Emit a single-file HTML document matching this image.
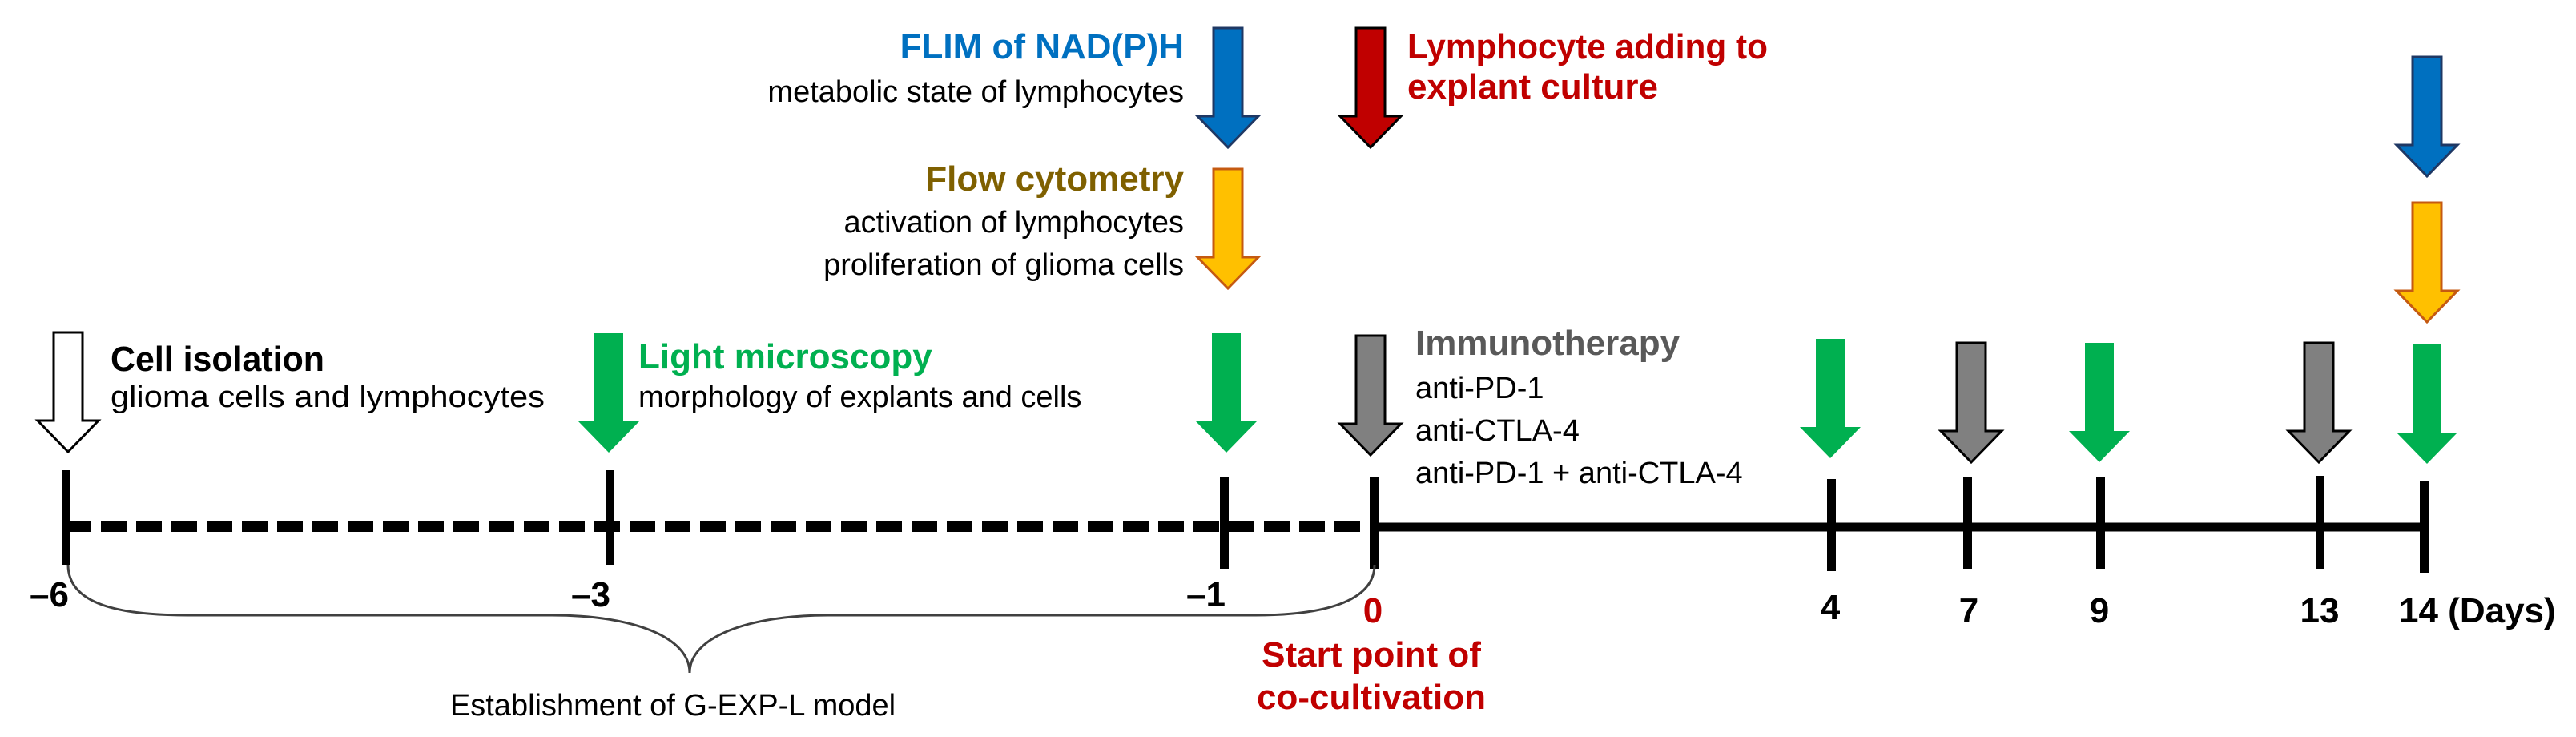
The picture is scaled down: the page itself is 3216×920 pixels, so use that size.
<!DOCTYPE html>
<html><head><meta charset="utf-8"><style>
html,body{margin:0;padding:0;background:#fff;}
svg{display:block;}
text{font-family:"Liberation Sans",Arial,sans-serif;}
.r{font-size:38px;fill:#000;}
.b{font-size:44px;font-weight:bold;}
</style></head><body>
<svg width="3216" height="920" viewBox="0 0 3216 920" xmlns="http://www.w3.org/2000/svg">
<defs>
<path id="arr" d="M-18 0 L18 0 L18 110 L38 110 L0 149 L-38 110 L-18 110 Z"/>
</defs>
<!-- arrows -->
<use href="#arr" transform="translate(85,415)" fill="#fff" stroke="#000" stroke-width="3"/>
<use href="#arr" transform="translate(760,416)" fill="#00b050"/>
<use href="#arr" transform="translate(1531,416)" fill="#00b050"/>
<use href="#arr" transform="translate(1711,419)" fill="#808080" stroke="#000" stroke-width="3"/>
<use href="#arr" transform="translate(2285,423)" fill="#00b050"/>
<use href="#arr" transform="translate(2461,428)" fill="#808080" stroke="#000" stroke-width="3"/>
<use href="#arr" transform="translate(2621,428)" fill="#00b050"/>
<use href="#arr" transform="translate(2895,428)" fill="#808080" stroke="#000" stroke-width="3"/>
<use href="#arr" transform="translate(3030,430)" fill="#00b050"/>
<use href="#arr" transform="translate(1533,35)" fill="#0070c0" stroke="#1f3864" stroke-width="3"/>
<use href="#arr" transform="translate(1711,35)" fill="#c00000" stroke="#000" stroke-width="3"/>
<use href="#arr" transform="translate(1533,211)" fill="#ffc000" stroke="#c55a11" stroke-width="3"/>
<use href="#arr" transform="translate(3030,71)" fill="#0070c0" stroke="#1f3864" stroke-width="3"/>
<use href="#arr" transform="translate(3030,253)" fill="#ffc000" stroke="#c55a11" stroke-width="3"/>

<!-- axis -->
<line x1="82" y1="657" x2="1712" y2="657" stroke="#000" stroke-width="14" stroke-dasharray="32 12"/>
<line x1="1712" y1="658" x2="3030" y2="658" stroke="#000" stroke-width="11"/>
<g fill="#000">
<rect x="77" y="587" width="11" height="118"/>
<rect x="756" y="587" width="11" height="118"/>
<rect x="1523" y="595" width="11" height="115"/>
<rect x="1710" y="595" width="11" height="115"/>
<rect x="2281" y="598" width="11" height="115"/>
<rect x="2451" y="595" width="11" height="115"/>
<rect x="2617" y="595" width="11" height="115"/>
<rect x="2891" y="594" width="11" height="116"/>
<rect x="3021" y="600" width="11" height="115"/>
</g>

<!-- brace -->
<path d="M85 705 C85 755,150 768,235 768 L689 768 C790 768,861 795,861 840 C861 795,935 768,1033 768 L1567 768 C1650 768,1716 752,1716 705" fill="none" stroke="#404040" stroke-width="3"/>

<!-- top texts -->
<text x="1478" y="73" text-anchor="end" class="b" fill="#0070c0">FLIM of NAD(P)H</text>
<text x="1478" y="127" text-anchor="end" class="r">metabolic state of lymphocytes</text>
<text x="1478" y="238" text-anchor="end" class="b" fill="#7f6000">Flow cytometry</text>
<text x="1478" y="290" text-anchor="end" class="r">activation of lymphocytes</text>
<text x="1478" y="343" text-anchor="end" class="r">proliferation of glioma cells</text>
<text x="1757" y="73" class="b" fill="#c00000" textLength="450" lengthAdjust="spacingAndGlyphs">Lymphocyte adding to</text>
<text x="1757" y="123" class="b" fill="#c00000">explant culture</text>

<text x="138" y="463" class="b" fill="#000" textLength="267" lengthAdjust="spacingAndGlyphs">Cell isolation</text>
<text x="138" y="508" class="r" textLength="542" lengthAdjust="spacingAndGlyphs">glioma cells and lymphocytes</text>
<text x="797" y="460" class="b" fill="#00b050">Light microscopy</text>
<text x="797" y="508" class="r">morphology of explants and cells</text>
<text x="1767" y="443" class="b" fill="#595959">Immunotherapy</text>
<text x="1767" y="497" class="r">anti-PD-1</text>
<text x="1767" y="550" class="r">anti-CTLA-4</text>
<text x="1767" y="603" class="r">anti-PD-1 + anti-CTLA-4</text>

<!-- tick labels -->
<g class="b" fill="#000">
<text x="86" y="757" text-anchor="end">–6</text>
<text x="762" y="757" text-anchor="end">–3</text>
<text x="1530" y="757" text-anchor="end">–1</text>
<text x="2285" y="773" text-anchor="middle">4</text>
<text x="2458" y="777" text-anchor="middle">7</text>
<text x="2621" y="777" text-anchor="middle">9</text>
<text x="2896" y="777" text-anchor="middle">13</text>
<text x="2995" y="777">14 (Days)</text>
</g>
<text x="1714" y="777" text-anchor="middle" class="b" fill="#c00000">0</text>
<text x="1712" y="832" text-anchor="middle" class="b" fill="#c00000">Start point of</text>
<text x="1712" y="885" text-anchor="middle" class="b" fill="#c00000">co-cultivation</text>
<text x="840" y="893" text-anchor="middle" class="r">Establishment of G-EXP-L model</text>
</svg>
</body></html>
